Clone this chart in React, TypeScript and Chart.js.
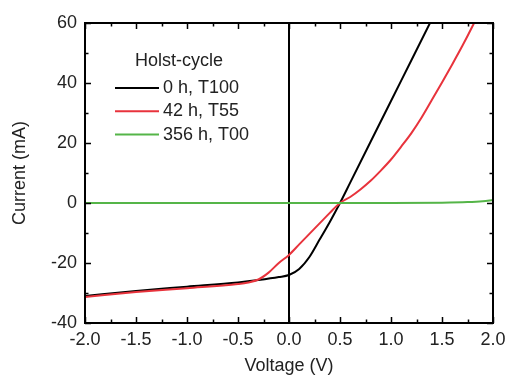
import React, { useEffect, useRef } from "react";
import { Chart, registerables } from "chart.js";

Chart.register(...registerables);

// ---- data ----
const seriesLabels = ["0 h, T100", "42 h, T55", "356 h, T00"];
const legendTitle = "Holst-cycle";
const xTitle = "Voltage (V)";
const yTitle = "Current (mA)";

const blackV = [-2.0, -1.5, -1.0, -0.5, -0.3, -0.1, 0.0, 0.1, 0.2, 0.3, 0.4, 0.5, 0.6, 0.8, 1.0, 1.2, 1.4];
const blackI = [-31.0, -29.3, -27.9, -26.5, -25.7, -24.7, -24.0, -22.0, -18.0, -12.2, -6.3, 0.0, 6.8, 20.4, 34.0, 47.6, 61.2];

const redV = [-2.0, -1.5, -1.0, -0.5, -0.4, -0.3, -0.2, -0.1, 0.0, 0.1, 0.2, 0.3, 0.4, 0.5, 0.6, 0.7, 0.8, 0.9, 1.0, 1.1, 1.2, 1.3, 1.4, 1.5, 1.6, 1.7, 1.8, 1.85];
const redI = [-31.3, -29.7, -28.4, -27.0, -26.5, -25.5, -23.2, -20.0, -17.3, -13.8, -10.3, -6.8, -3.3, 0.0, 2.0, 4.5, 7.4, 10.8, 14.5, 18.8, 23.3, 28.5, 34.3, 40.2, 46.2, 52.4, 59.0, 62.5];

const greenV = [-2.0, -1.0, 0.0, 0.5, 1.0, 1.5, 1.75, 1.9, 2.0];
const greenI = [0.0, 0.0, 0.0, 0.0, 0.0, 0.1, 0.3, 0.6, 1.0];

const xTicks = [-2.0, -1.5, -1.0, -0.5, 0.0, 0.5, 1.0, 1.5, 2.0];
const xTickLabels = ["-2.0", "-1.5", "-1.0", "-0.5", "0.0", "0.5", "1.0", "1.5", "2.0"];
const yTicks = [-40, -20, 0, 20, 40, 60];
const yTickLabels = ["-40", "-20", "0", "20", "40", "60"];

const colors = ["#000000", "#e8333c", "#55b548"];

const FONT = "'Liberation Sans', Arial, sans-serif";
const TEXT = "#222222";

const toPts = (xs: number[], ys: number[]) => xs.map((x, i) => ({ x, y: ys[i] }));

const decorPlugin = {
  id: "decor",
  beforeDatasetsDraw(chart: any) {
    const { ctx, chartArea: a, scales } = chart;
    const x0 = scales.x.getPixelForValue(0);
    ctx.save();
    ctx.strokeStyle = "#000";
    ctx.lineWidth = 2;
    ctx.beginPath();
    ctx.moveTo(x0, a.top);
    ctx.lineTo(x0, a.bottom);
    ctx.stroke();
    ctx.restore();
  },
  afterDatasetsDraw(chart: any) {
    const { ctx, chartArea: a, scales } = chart;
    const sx = scales.x;
    const sy = scales.y;
    ctx.save();
    ctx.strokeStyle = "#000";
    ctx.lineWidth = 2;
    ctx.strokeRect(a.left, a.top, a.right - a.left, a.bottom - a.top);
    ctx.lineWidth = 1.5;
    const major = 6;
    const minor = 3.5;
    const xs: [number, number][] = [];
    xTicks.forEach((v, i) => {
      xs.push([v, major]);
      if (i < xTicks.length - 1) xs.push([(v + xTicks[i + 1]) / 2, minor]);
    });
    const ys: [number, number][] = [];
    yTicks.forEach((v, i) => {
      ys.push([v, major]);
      if (i < yTicks.length - 1) ys.push([(v + yTicks[i + 1]) / 2, minor]);
    });
    ctx.beginPath();
    xs.forEach(([v, len]) => {
      const p = Math.round(sx.getPixelForValue(v)) + 0.5;
      ctx.moveTo(p, a.bottom);
      ctx.lineTo(p, a.bottom - len);
      ctx.moveTo(p, a.top);
      ctx.lineTo(p, a.top + len);
    });
    ys.forEach(([v, len]) => {
      const p = Math.round(sy.getPixelForValue(v)) + 0.5;
      ctx.moveTo(a.left, p);
      ctx.lineTo(a.left + len, p);
      ctx.moveTo(a.right, p);
      ctx.lineTo(a.right - len, p);
    });
    ctx.stroke();

    // legend
    ctx.font = `18px ${FONT}`;
    ctx.fillStyle = TEXT;
    ctx.textBaseline = "middle";
    ctx.textAlign = "left";
    ctx.fillText(legendTitle, 135, 61);
    const ds = chart.data.datasets;
    [0, 1, 2].forEach((k) => {
      const d = ds[k];
      const y = 88 + k * 23.3;
      ctx.strokeStyle = d.borderColor;
      ctx.lineWidth = 2;
      ctx.beginPath();
      ctx.moveTo(115, y);
      ctx.lineTo(159, y);
      ctx.stroke();
      ctx.fillStyle = TEXT;
      ctx.fillText(d.label, 163, y);
    });
    ctx.restore();
  },
};

export default function App() {
  const ref = useRef<HTMLCanvasElement | null>(null);
  useEffect(() => {
    if (!ref.current) return;
    const chart = new Chart(ref.current, {
      type: "line",
      data: {
        datasets: [
          { label: seriesLabels[0], data: toPts(blackV, blackI), borderColor: colors[0], order: 2 },
          { label: seriesLabels[1], data: toPts(redV, redI), borderColor: colors[1], order: 1 },
          { label: seriesLabels[2], data: toPts(greenV, greenI), borderColor: colors[2], order: 0 },
        ].map((d) => ({
          ...d,
          borderWidth: 2,
          pointRadius: 0,
          fill: false,
          cubicInterpolationMode: "monotone" as const,
        })),
      },
      options: {
        responsive: false,
        animation: false,
        devicePixelRatio: 1,
        layout: { padding: { top: 23, right: 14, left: 0, bottom: 0 } },
        plugins: { legend: { display: false }, tooltip: { enabled: false } },
        scales: {
          x: {
            type: "linear",
            min: -2,
            max: 2,
            grid: { display: false, drawTicks: false },
            border: { display: false },
            afterBuildTicks: (s: any) => {
              s.ticks = xTicks.map((v) => ({ value: v }));
            },
            afterFit: (s: any) => {
              s.height = 379 - 323;
              s.paddingLeft = 0;
              s.paddingRight = 0;
            },
            ticks: {
              autoSkip: false,
              maxRotation: 0,
              padding: 6,
              color: TEXT,
              font: { family: FONT, size: 18 },
              callback: (v: any) => xTickLabels[xTicks.indexOf(Number(v))] ?? "",
            },
            title: {
              display: true,
              text: xTitle,
              color: TEXT,
              font: { family: FONT, size: 18 },
              padding: { top: 0, bottom: 2 },
            },
          },
          y: {
            type: "linear",
            min: -40,
            max: 60,
            grid: { display: false, drawTicks: false },
            border: { display: false },
            afterBuildTicks: (s: any) => {
              s.ticks = yTicks.map((v) => ({ value: v }));
            },
            afterFit: (s: any) => {
              s.width = 85;
              s.paddingTop = 0;
              s.paddingBottom = 0;
            },
            ticks: {
              autoSkip: false,
              padding: 8,
              color: TEXT,
              font: { family: FONT, size: 18 },
              callback: (v: any) => yTickLabels[yTicks.indexOf(Number(v))] ?? "",
            },
            title: {
              display: true,
              text: yTitle,
              color: TEXT,
              font: { family: FONT, size: 18 },
              padding: { top: 9, bottom: 0 },
            },
          },
        },
      },
      plugins: [decorPlugin],
    });
    return () => chart.destroy();
  }, []);
  return (
    <div style={{ position: "fixed", left: 0, top: 0, width: 507, height: 379, background: "#fff" }}>
      <canvas ref={ref} width={507} height={379} style={{ display: "block", width: 507, height: 379 }} />
    </div>
  );
}
